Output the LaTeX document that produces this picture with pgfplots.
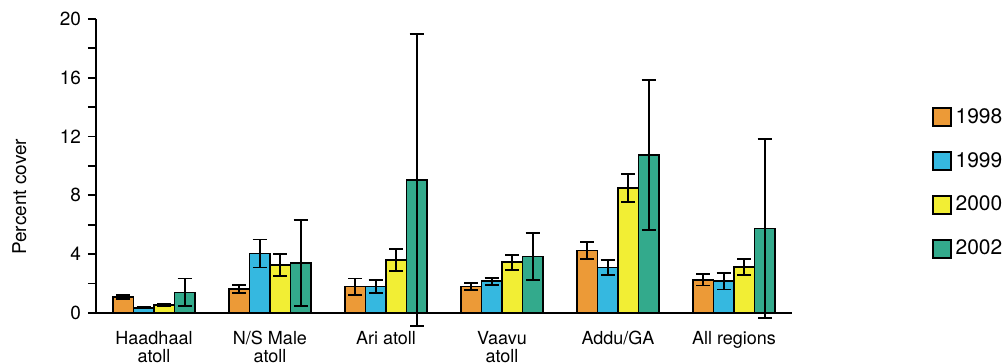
\documentclass[border=0pt]{standalone}
\usepackage{pgfplots}
\pgfplotsset{compat=1.18}
\usepackage{pgfplotstable}
\usepackage{fontspec}
\setmainfont{TeX Gyre Heros}
\definecolor{cOr}{HTML}{EC9A37}
\definecolor{cBl}{HTML}{35B8E0}
\definecolor{cYe}{HTML}{F2EE34}
\definecolor{cGr}{HTML}{33AA8C}
\pgfplotstableread{
x y e
0 1.1 0.15
1 1.65 0.28
2 1.8 0.55
3 1.8 0.22
4 4.25 0.6
5 2.25 0.38
}\tA
\pgfplotstableread{
x y e
0 0.35 0.05
1 4.05 0.95
2 1.8 0.45
3 2.15 0.22
4 3.1 0.5
5 2.15 0.55
}\tB
\pgfplotstableread{
x y e
0 0.55 0.05
1 3.25 0.75
2 3.6 0.75
3 3.45 0.5
4 8.5 0.95
5 3.15 0.55
}\tC
\pgfplotstableread{
x y e
0 1.4 0.95
1 3.4 2.9
2 9.05 9.95
3 3.85 1.6
4 10.75 5.1
5 5.75 6.1
}\tD
\pgfplotsset{
  myerr/.style={error bars/.cd, y dir=both, y explicit,
    error bar style={line width=0.9pt, black},
    error mark options={rotate=90, mark size=3.5pt, line width=0.9pt, black}},
}
\begin{document}
\begin{tikzpicture}
\begin{axis}[
  at={(0,0)}, anchor=south west,
  scale only axis, width=348pt, height=147pt,
  clip=false,
  ybar=0pt, bar width=10.25pt,
  xmin=-0.5, xmax=5.5, ymin=0, ymax=20,
  axis x line*=bottom, axis y line*=left,
  axis line style={line width=0.9pt, black, -},
  every tick/.style={black, line width=0.9pt},
  ytick={0,4,...,20}, minor ytick={2,6,...,18},
  tick align=outside,
  major tick length=4pt, minor tick length=4pt,
  xtick={0,...,5},
  xticklabels={{Haadhaal\\[-1pt]atoll},{N/S Male\\[-1pt]atoll},{Ari atoll},{Vaavu\\[-1pt]atoll},{Addu/GA},{All regions}},
  x tick style={draw=none},
  extra x ticks={-0.5,0.5,1.5,2.5,3.5,4.5,5.5},
  extra x tick labels={},
  extra x tick style={major tick length=2.5pt, tick style={draw=black, line width=0.9pt}},
  xticklabel style={align=center, font=\fontsize{9}{10}\selectfont, yshift=-1.5pt},
  yticklabel style={font=\fontsize{9.5}{10}\selectfont},
  /pgf/number format/assume math mode=true,
  ylabel={Percent cover},
  ylabel style={at={(axis description cs:-0.11,0.395)}, anchor=center, font=\fontsize{9.5}{10}\selectfont},
  legend style={at={(axis description cs:1.2,0.442)}, anchor=west, draw=none, fill=none,
    font=\fontsize{10.5}{12}\selectfont, row sep=9pt, inner sep=0pt,
    /tikz/every even column/.append style={column sep=3pt}},
  legend image code/.code={\draw[#1, draw=black, line width=1pt] (0pt,-4.5pt) rectangle (9pt,4.5pt);},
]
\addplot[fill=cOr, draw=black, line width=0.9pt, myerr] table[x=x, y=y, y error=e] {\tA};
\addplot[fill=cBl, draw=black, line width=0.9pt, myerr] table[x=x, y=y, y error=e] {\tB};
\addplot[fill=cYe, draw=black, line width=0.9pt, myerr] table[x=x, y=y, y error=e] {\tC};
\addplot[fill=cGr, draw=black, line width=0.9pt, myerr] table[x=x, y=y, y error=e] {\tD};
\legend{1998,1999,2000,2002}
\end{axis}
\pgfresetboundingbox
\useasboundingbox (-48pt,-25pt) rectangle (454.5pt,156.5pt);
\end{tikzpicture}
\end{document}
